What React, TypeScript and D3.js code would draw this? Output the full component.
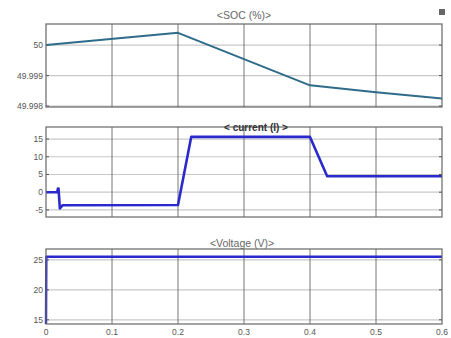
import React from "react";
import * as d3 from "d3";

const xTicks = [0, 0.1, 0.2, 0.3, 0.4, 0.5, 0.6];

const socTime = [0, 0.2, 0.4, 0.5, 0.6];
const socValue = [50.0, 50.0004, 49.99868, 49.99845, 49.99825];
const socTicks = [49.998, 49.999, 50];

const curTime = [0, 0.017, 0.018, 0.019, 0.021, 0.025, 0.2, 0.22, 0.4, 0.426, 0.6];
const curValue = [0, 0, 1, 1, -4.6, -3.7, -3.6, 15.6, 15.6, 4.5, 4.5];
const curTicks = [-5, 0, 5, 10, 15];

const voltTime = [0, 0.0005, 0.6];
const voltValue = [14.3, 25.5, 25.5];
const voltTicks = [15, 20, 25];

const L = 46, R = 442;

type Panel = {
  title: string; top: number; bottom: number; domain: [number, number];
  ticks: number[]; fmt: (v: number) => string; t: number[]; v: number[];
  color: string; width: number; titleY: number; titleX: number; bold?: boolean; fs: number;
};

const panels: Panel[] = [
  { title: "<SOC (%)>", top: 24, bottom: 107, domain: [49.99797, 50.00069], ticks: socTicks,
    fmt: (v) => (v === 50 ? "50" : v.toFixed(3)), t: socTime, v: socValue, color: "#2f6b8a", width: 2,
    titleY: 19, titleX: 244, fs: 10.5 },
  { title: "< current (I) >", top: 127, bottom: 217, domain: [-7.0, 18.4], ticks: curTicks,
    fmt: (v) => String(v), t: curTime, v: curValue, color: "#2a2acc", width: 2.6, titleY: 131, titleX: 256, bold: true, fs: 10 },
  { title: "<Voltage (V)>", top: 249, bottom: 324, domain: [14.3, 26.8], ticks: voltTicks,
    fmt: (v) => String(v), t: voltTime, v: voltValue, color: "#2a2acc", width: 2.4, titleY: 247, titleX: 242, fs: 10.5 },
];

export default function App() {
  const x = d3.scaleLinear().domain([0, 0.6]).range([L, R]);
  return (
    <svg width={451} height={338} style={{ position: "absolute", left: 0, top: 0, background: "#fff" }}
      fontFamily="Liberation Sans, Arial, sans-serif">
      <rect x={0} y={0} width={451} height={338} fill="#fff" />
      {panels.map((p, i) => {
        const y = d3.scaleLinear().domain(p.domain).range([p.bottom, p.top]);
        const line = d3.line<number>().x((_, k) => x(p.t[k])).y((d) => y(d));
        return (
          <g key={i}>
            {p.ticks.map((tv) => (
              <g key={tv}>
                <line x1={L} x2={R} y1={y(tv)} y2={y(tv)} stroke="#c8c8c8" strokeWidth={1.2} />
                <line x1={L} x2={L + 3} y1={y(tv)} y2={y(tv)} stroke="#555" />
                <line x1={R - 3} x2={R} y1={y(tv)} y2={y(tv)} stroke="#555" />
                <text x={L - 3} y={y(tv)} dy="0.35em" textAnchor="end" fontSize={8.5} fill="#555">{p.fmt(tv)}</text>
              </g>
            ))}
            {xTicks.slice(1, -1).map((tv) => (
              <line key={tv} x1={x(tv)} x2={x(tv)} y1={p.top} y2={p.bottom} stroke="#666" strokeWidth={0.9} />
            ))}
            <path d={line(p.v) || ""} fill="none" stroke={p.color} strokeWidth={p.width} strokeLinejoin="round" />
            <rect x={L} y={p.top} width={R - L} height={p.bottom - p.top} fill="none" stroke="#666" strokeWidth={1.2} />
            <text x={p.titleX} y={p.titleY} textAnchor="middle" fontSize={p.fs} fill={p.bold ? "#333" : "#666"}
              fontWeight={p.bold ? "bold" : "normal"}>{p.title}</text>
          </g>
        );
      })}
      {xTicks.map((tv) => (
        <text key={tv} x={x(tv)} y={335} textAnchor="middle" fontSize={8.5} fill="#555">{String(tv)}</text>
      ))}
      <rect x={439} y={9} width={6} height={6} fill="#666" />
    </svg>
  );
}
